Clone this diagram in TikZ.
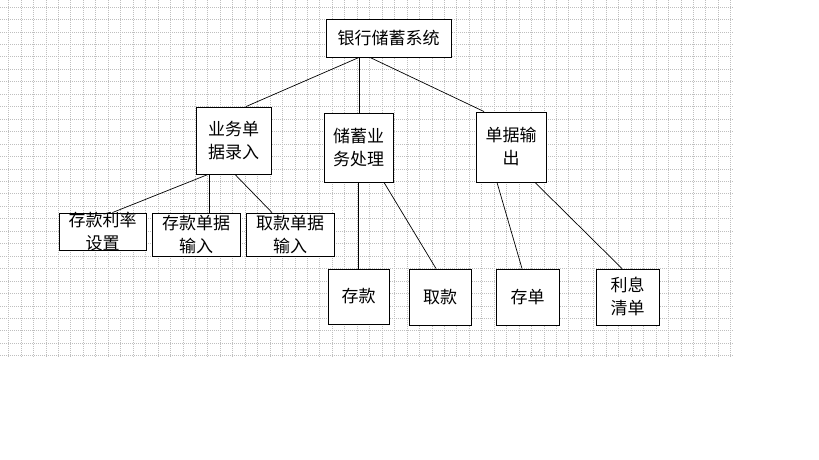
\documentclass[tikz,border=0pt]{standalone}
\usepackage{fontspec}
\newfontfamily\cjk{Noto Sans CJK SC}
\newcommand\tl[1]{\smash{\raisebox{-6pt}{\begin{tabular}{@{}c@{}}#1\end{tabular}}}}
\begin{document}
\begin{tikzpicture}[x=1pt,y=-1pt,
  box/.style={draw, fill=white, line width=0.9pt, inner sep=0pt, font=\cjk\fontsize{17}{23}\selectfont},
  conn/.style={line width=0.7pt},
  gridline/.style={gray!50, dash pattern=on 1pt off 1pt, line width=0.6pt}]
\useasboundingbox (0,0) rectangle (819,460);
\foreach \i in {0,...,28} \draw[gridline] (0,{7+12.45*\i}) -- (733,{7+12.45*\i});
\foreach \i in {0,...,58} \draw[gridline] ({8.5+12.45*\i},0) -- ({8.5+12.45*\i},358);

\node[box, minimum width=125pt, minimum height=38pt] (root) at (388.5,38) {\tl{银行储蓄系统}};
\node[box, minimum width=75pt, minimum height=67pt] (ywd) at (233.5,140.5) {\tl{业务单\\据录入}};
\node[box, minimum width=69pt, minimum height=69pt] (cxyw) at (358.5,147.5) {\tl{储蓄业\\务处理}};
\node[box, minimum width=70pt, minimum height=70pt] (djsc) at (511,147) {\tl{单据输\\出}};
\node[box, minimum width=87pt, minimum height=37pt] (ckll) at (102.5,231.5) {\tl{存款利率\\设置}};
\node[box, minimum width=88pt, minimum height=43pt] (ckdj) at (196,234.5) {\tl{存款单据\\输入}};
\node[box, minimum width=88pt, minimum height=43pt] (qkdj) at (290,234.5) {\tl{取款单据\\输入}};
\node[box, minimum width=61pt, minimum height=55pt] (ck) at (358.5,296.5) {\tl{存款}};
\node[box, minimum width=62pt, minimum height=56pt] (qk) at (440,297) {\tl{取款}};
\node[box, minimum width=63pt, minimum height=56pt] (cd) at (527.5,297) {\tl{存单}};
\node[box, minimum width=63pt, minimum height=56pt] (lxqd) at (627.5,297) {\tl{利息\\清单}};

\draw[conn] ([xshift=-29.5pt]root.south) -- ([xshift=12.5pt]ywd.north);
\draw[conn] ([xshift=-29.5pt]root.south) -- ([xshift=0.5pt]cxyw.north);
\draw[conn] ([xshift=-18.5pt]root.south) -- ([xshift=-27pt]djsc.north);
\draw[conn] ([xshift=-25.5pt]ywd.south) -- ([xshift=10pt]ckll.north);
\draw[conn] ([xshift=-24.5pt]ywd.south) -- ([xshift=13pt]ckdj.north);
\draw[conn] ([xshift=1.5pt]ywd.south) -- ([xshift=-18pt]qkdj.north);
\draw[conn] (cxyw.south) -- (ck.north);
\draw[conn] ([xshift=25.5pt]cxyw.south) -- ([xshift=-4pt]qk.north);
\draw[conn] ([xshift=-14pt]djsc.south) -- ([xshift=-5.5pt]cd.north);
\draw[conn] ([xshift=24pt]djsc.south) -- ([xshift=-5.5pt]lxqd.north);
\end{tikzpicture}
\end{document}
